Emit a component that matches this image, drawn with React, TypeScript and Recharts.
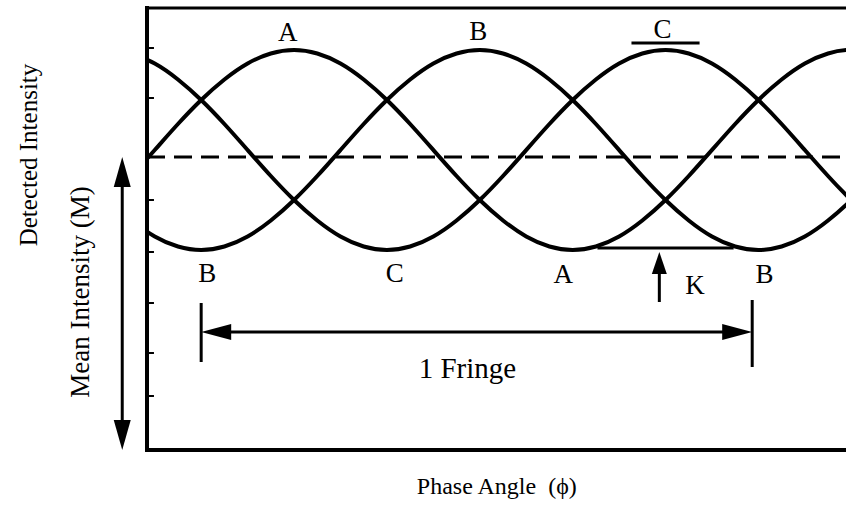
import React from 'react';
import { LineChart, Line, XAxis, YAxis, ReferenceLine, ReferenceDot } from 'recharts';

// Phase angle samples (degrees) and detected intensity of the three channels
const phase = [-15, 0, 15, 30, 45, 60, 75, 90, 105, 120, 135, 150, 165, 180, 195, 210, 225, 240, 255, 270, 285, 300, 315, 330, 345, 360, 375, 390, 405, 420, 435, 450, 465];
const intensityA = [5.48, 6.0, 6.52, 7.0, 7.41, 7.73, 7.93, 8.0, 7.93, 7.73, 7.41, 7.0, 6.52, 6.0, 5.48, 5.0, 4.59, 4.27, 4.07, 4.0, 4.07, 4.27, 4.59, 5.0, 5.48, 6.0, 6.52, 7.0, 7.41, 7.73, 7.93, 8.0, 7.93];
const intensityB = [4.59, 4.27, 4.07, 4.0, 4.07, 4.27, 4.59, 5.0, 5.48, 6.0, 6.52, 7.0, 7.41, 7.73, 7.93, 8.0, 7.93, 7.73, 7.41, 7.0, 6.52, 6.0, 5.48, 5.0, 4.59, 4.27, 4.07, 4.0, 4.07, 4.27, 4.59, 5.0, 5.48];
const intensityC = [7.93, 7.73, 7.41, 7.0, 6.52, 6.0, 5.48, 5.0, 4.59, 4.27, 4.07, 4.0, 4.07, 4.27, 4.59, 5.0, 5.48, 6.0, 6.52, 7.0, 7.41, 7.73, 7.93, 8.0, 7.93, 7.73, 7.41, 7.0, 6.52, 6.0, 5.48, 5.0, 4.59];

// Axis ranges and unlabeled tick marks on the intensity axis
const phaseDomain = [-5, 455];
const intensityDomain = [0, 8.84];
const intensityTicks = [1.08, 1.94, 2.94, 3.96, 5.0, 7.04, 8.04];
const tickSpan = [-5, -0.5];
const meanIntensity = 5.86;

// Channel labels at maxima and minima: [text, phase, intensity]
const peakLabels: [string, number, number][] = [
  ['A', 86, 8.38],
  ['B', 209, 8.4],
  ['C', 328, 8.44],
];
const troughLabels: [string, number, number][] = [
  ['B', 34, 3.56],
  ['C', 155, 3.56],
  ['A', 264, 3.54],
  ['B', 394, 3.54],
];

// Bars marking the C maximum and the K minimum level
const cBar = { from: 308, to: 352, level: 8.14 };
const kBar = { from: 286, to: 374, level: 4.04 };
const kArrow = { phase: 326, from: 2.96, to: 3.96 };
const kLabel = { phase: 349, level: 3.32 };

// One fringe span
const fringe = { from: 30, to: 386, level: 2.36, barLeft: [2.94, 1.76], barRight: [3.0, 1.66] };
const fringeLabel = { phase: 202, level: 1.64 };

// Mean intensity double arrow beside the axis
const meanArrow = { phase: -21, from: 0, to: 5.86 };

const data = phase.map((p, i) => ({ phi: p, A: intensityA[i], B: intensityB[i], C: intensityC[i] }));

const FONT = '"Liberation Serif", "Times New Roman", serif';

const arrowShape = (len: number, half: number, width: number, both: boolean) => (props: any) => {
  const { x1, y1, x2, y2 } = props;
  const dx = x2 - x1;
  const dy = y2 - y1;
  const L = Math.sqrt(dx * dx + dy * dy) || 1;
  const ux = dx / L;
  const uy = dy / L;
  const nx = -uy;
  const ny = ux;
  const head = (tx: number, ty: number, sx: number, sy: number) => {
    const bx = tx - sx * len;
    const by = ty - sy * len;
    return `${tx},${ty} ${bx + nx * half},${by + ny * half} ${bx - nx * half},${by - ny * half}`;
  };
  const sx1 = both ? x1 + ux * (len - 2) : x1;
  const sy1 = both ? y1 + uy * (len - 2) : y1;
  const sx2 = x2 - ux * (len - 2);
  const sy2 = y2 - uy * (len - 2);
  return (
    <g>
      <line x1={sx1} y1={sy1} x2={sx2} y2={sy2} stroke="#000" strokeWidth={width} />
      <polygon points={head(x2, y2, ux, uy)} fill="#000" />
      {both && <polygon points={head(x1, y1, -ux, -uy)} fill="#000" />}
    </g>
  );
};

const textLabel = (value: string, size: number, angle = 0) => ({
  value,
  position: 'center' as const,
  fill: '#000',
  fontSize: size,
  fontFamily: FONT,
  angle,
});

export default function App() {
  return (
    <div style={{ position: 'absolute', left: 0, top: 0, width: 846, height: 505, overflow: 'hidden', background: '#fff' }}>
      <LineChart width={870} height={505} data={data} margin={{ top: 8, right: 11, bottom: 0, left: 0 }}>
        <XAxis
          dataKey="phi"
          type="number"
          domain={phaseDomain}
          allowDataOverflow
          tick={false}
          tickLine={false}
          height={55}
          axisLine={{ stroke: '#000', strokeWidth: 4, strokeLinecap: 'square' }}
        />
        <YAxis
          type="number"
          domain={intensityDomain}
          allowDataOverflow
          tick={false}
          tickLine={false}
          width={147}
          axisLine={{ stroke: '#000', strokeWidth: 4, strokeLinecap: 'square' }}
        />
        {intensityTicks.map((t) => (
          <ReferenceLine
            key={`tick${t}`}
            segment={[{ x: tickSpan[0], y: t }, { x: tickSpan[1], y: t }]}
            stroke="#000"
            strokeWidth={2}
          />
        ))}
        <ReferenceLine y={intensityDomain[1]} stroke="#000" strokeWidth={3} />
        <ReferenceLine y={meanIntensity} stroke="#000" strokeWidth={3} strokeDasharray="18 9" />

        <Line type="natural" dataKey="A" stroke="#000" strokeWidth={4} dot={false} isAnimationActive={false} />
        <Line type="natural" dataKey="B" stroke="#000" strokeWidth={4} dot={false} isAnimationActive={false} />
        <Line type="natural" dataKey="C" stroke="#000" strokeWidth={4} dot={false} isAnimationActive={false} />

        <ReferenceLine segment={[{ x: cBar.from, y: cBar.level }, { x: cBar.to, y: cBar.level }]} stroke="#000" strokeWidth={3} />
        <ReferenceLine segment={[{ x: kBar.from, y: kBar.level }, { x: kBar.to, y: kBar.level }]} stroke="#000" strokeWidth={3} />
        <ReferenceLine
          segment={[{ x: kArrow.phase, y: kArrow.from }, { x: kArrow.phase, y: kArrow.to }]}
          shape={arrowShape(22, 7.5, 3, false)}
        />

        <ReferenceLine segment={[{ x: fringe.from, y: fringe.barLeft[0] }, { x: fringe.from, y: fringe.barLeft[1] }]} stroke="#000" strokeWidth={3} />
        <ReferenceLine segment={[{ x: fringe.to, y: fringe.barRight[0] }, { x: fringe.to, y: fringe.barRight[1] }]} stroke="#000" strokeWidth={3} />
        <ReferenceLine
          segment={[{ x: fringe.from, y: fringe.level }, { x: fringe.to, y: fringe.level }]}
          shape={arrowShape(30, 8, 3, true)}
        />

        <ReferenceLine
          ifOverflow="visible"
          segment={[{ x: meanArrow.phase, y: meanArrow.from }, { x: meanArrow.phase, y: meanArrow.to }]}
          shape={arrowShape(30, 8.5, 3, true)}
        />

        {peakLabels.map(([t, x, y], i) => (
          <ReferenceDot key={`p${i}`} x={x} y={y} r={0} ifOverflow="visible" label={textLabel(t, 27)} />
        ))}
        {troughLabels.map(([t, x, y], i) => (
          <ReferenceDot key={`t${i}`} x={x} y={y} r={0} ifOverflow="visible" label={textLabel(t, 27)} />
        ))}
        <ReferenceDot x={kLabel.phase} y={kLabel.level} r={0} ifOverflow="visible" label={textLabel('K', 27)} />
        <ReferenceDot x={fringeLabel.phase} y={fringeLabel.level} r={0} ifOverflow="visible" label={textLabel('1 Fringe', 29)} />

        <ReferenceDot x={221} y={-0.7} r={0} ifOverflow="visible" label={textLabel('Phase Angle\u2002(\u03d5)', 24)} />
        <ReferenceDot x={-82} y={5.9} r={0} ifOverflow="visible" label={textLabel('Detected Intensity', 25, -90)} />
        <ReferenceDot x={-48.5} y={3.16} r={0} ifOverflow="visible" label={textLabel('Mean Intensity (M)', 27, -90)} />
      </LineChart>
    </div>
  );
}
